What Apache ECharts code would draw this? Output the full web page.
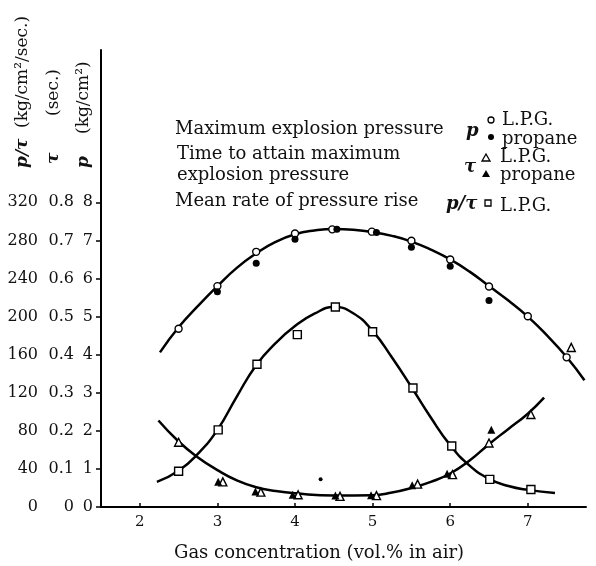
<!DOCTYPE html>
<html>
<head>
<meta charset="utf-8">
<script src="https://cdn.jsdelivr.net/npm/echarts@6/dist/echarts.min.js"></script>
<style>
  html, body { margin: 0; padding: 0; background: #fff; }
  #chart { width: 596px; height: 566px; }
</style>
</head>
<body>
<div id="chart"></div>
<script>
// tick labels for the three stacked scales
const xTicks = [2, 3, 4, 5, 6, 7];
const pTicks = [0, 1, 2, 3, 4, 5, 6, 7, 8];
const tauTicks = [0, 0.1, 0.2, 0.3, 0.4, 0.5, 0.6, 0.7, 0.8];
const rateTicks = [0, 40, 80, 120, 160, 200, 240, 280, 320];

// maximum explosion pressure p (kg/cm2)
const pLpgX = [2.5, 3.0, 3.5, 4.0, 4.48, 4.99, 5.5, 6.0, 6.5, 7.0, 7.5];
const pLpg = [4.68, 5.80, 6.70, 7.18, 7.29, 7.23, 6.99, 6.50, 5.79, 5.01, 3.93];
const pPropaneX = [3.0, 3.5, 4.0, 4.54, 5.05, 5.5, 6.0, 6.5];
const pPropane = [5.65, 6.40, 7.03, 7.29, 7.21, 6.82, 6.32, 5.42];

// time to attain maximum pressure tau (sec.)
const tauLpgX = [2.5, 3.07, 3.56, 4.04, 4.58, 5.05, 5.58, 6.03, 6.5, 7.04, 7.56];
const tauLpg = [0.170, 0.066, 0.039, 0.032, 0.028, 0.030, 0.060, 0.085, 0.168, 0.243, 0.419];
const tauPropaneX = [3.01, 3.49, 3.97, 4.52, 4.98, 5.51, 5.96, 6.53];
const tauPropane = [0.066, 0.041, 0.032, 0.030, 0.031, 0.057, 0.087, 0.203];
const strayX = [4.33];
const stray = [0.073];

// mean rate of pressure rise p/tau (kg/cm2/sec.)
const rateLpgX = [2.5, 3.01, 3.51, 4.03, 4.52, 5.0, 5.52, 6.02, 6.51, 7.04];
const rateLpg = [37.6, 81, 150, 181, 210, 184, 125, 64, 29, 18.4];

// hand-drawn fitted curves
const pCurveX = [2.26, 2.5, 2.75, 3.0, 3.25, 3.5, 3.75, 4.0, 4.25, 4.5, 4.75, 5.0, 5.25, 5.5, 5.75, 6.0, 6.25, 6.5, 6.75, 7.0, 7.25, 7.5, 7.73];
const pCurve = [4.06, 4.72, 5.28, 5.80, 6.28, 6.66, 6.96, 7.16, 7.26, 7.30, 7.28, 7.22, 7.12, 6.97, 6.76, 6.50, 6.18, 5.80, 5.42, 5.00, 4.50, 3.94, 3.33];
const rateCurveX = [2.22, 2.5, 2.75, 3.0, 3.25, 3.5, 3.75, 4.0, 4.25, 4.5, 4.75, 5.0, 5.25, 5.5, 5.75, 6.0, 6.25, 6.5, 6.75, 7.0, 7.35];
const rateCurve = [26.4, 38, 56, 81, 116, 149, 172, 190, 203, 210, 203.5, 185, 157, 126, 94, 65, 43.5, 29.5, 22, 18, 14.8];
const tauCurveX = [2.24, 2.5, 2.75, 3.0, 3.25, 3.5, 3.75, 4.0, 4.5, 5.0, 5.25, 5.5, 5.75, 6.0, 6.25, 6.5, 6.75, 7.0, 7.21];
const tauCurve = [0.227, 0.172, 0.130, 0.097, 0.070, 0.052, 0.042, 0.036, 0.030, 0.031, 0.038, 0.050, 0.066, 0.088, 0.122, 0.165, 0.205, 0.245, 0.287];

const SERIF = '"DejaVu Serif", "Liberation Serif", serif';

function zip(xs, ys) {
  return xs.map((x, i) => [x, ys[i]]);
}

function curve(name, xs, ys, axis) {
  return {
    name, type: 'line', yAxisIndex: axis, data: zip(xs, ys),
    smooth: 0.5, symbol: 'none', silent: true, z: 2,
    lineStyle: { color: '#000', width: 2.5 }
  };
}

function dots(name, xs, ys, axis, symbol, size, filled) {
  return {
    name, type: 'scatter', yAxisIndex: axis, data: zip(xs, ys),
    symbol, symbolSize: size, z: 5,
    itemStyle: filled
      ? { color: '#000', opacity: 1 }
      : { color: '#fff', borderColor: '#000', borderWidth: 1.4, opacity: 1 }
  };
}

function sideAxis(max, ticks, offset, fmt, showLine) {
  return {
    type: 'value', position: 'left', offset, min: 0, max,
    axisLine: { show: showLine, onZero: false, lineStyle: { color: '#000', width: 2 } },
    axisTick: { show: showLine, customValues: ticks, length: 5, lineStyle: { color: '#000', width: 1.5 } },
    axisLabel: {
      customValues: ticks, formatter: fmt, margin: 8,
      color: '#111', fontFamily: SERIF, fontSize: 16
    },
    splitLine: { show: false }
  };
}

// rotated axis captions, read bottom-to-top
function vtext(x, y, text, italic) {
  return {
    type: 'text', x, y, rotation: Math.PI / 2,
    style: {
      text, align: 'left', verticalAlign: 'middle', fill: '#111',
      font: (italic ? 'italic bold 17px ' : '17px ') + SERIF
    }
  };
}

function label(x, y, text, size) {
  return {
    type: 'text', x, y,
    style: {
      text, align: 'left', verticalAlign: 'middle', fill: '#111',
      font: (size || 18) + 'px ' + SERIF,
      rich: { i: { fontStyle: 'italic', fontFamily: SERIF, fontSize: 18, fontWeight: 'bold' } }
    }
  };
}

const openStyle = { fill: '#fff', stroke: '#000', lineWidth: 1.3 };
const fillStyle = { fill: '#000' };

const chart = echarts.init(document.getElementById('chart'), null, { renderer: 'canvas' });

chart.setOption({
  backgroundColor: '#fff',
  animation: false,
  grid: { left: 101, right: 10, top: 50, bottom: 59 },
  xAxis: {
    type: 'value', min: 1.5, max: 7.75,
    axisLine: { onZero: false, lineStyle: { color: '#000', width: 2 } },
    axisTick: { inside: true, customValues: xTicks, length: 4, lineStyle: { color: '#000', width: 1.5 } },
    axisLabel: { customValues: xTicks, margin: 8, color: '#111', fontFamily: SERIF, fontSize: 15 },
    splitLine: { show: false }
  },
  yAxis: [
    sideAxis(12, pTicks, 0, v => String(v), true),
    sideAxis(1.2, tauTicks, 19, v => (v === 0 ? '0' : v.toFixed(1)), false),
    sideAxis(480, rateTicks, 55, v => String(v), false)
  ],
  series: [
    curve('p curve', pCurveX, pCurve, 0),
    curve('p/tau curve', rateCurveX, rateCurve, 2),
    curve('tau curve', tauCurveX, tauCurve, 1),
    dots('p L.P.G.', pLpgX, pLpg, 0, 'circle', 7, false),
    dots('p propane', pPropaneX, pPropane, 0, 'circle', 7, true),
    dots('tau L.P.G.', tauLpgX, tauLpg, 1, 'triangle', 8, false),
    dots('tau propane', tauPropaneX, tauPropane, 1, 'triangle', 8, true),
    dots('stray', strayX, stray, 1, 'circle', 4, true),
    dots('p/tau L.P.G.', rateLpgX, rateLpg, 2, 'rect', 8, false)
  ],
  graphic: [
    vtext(23, 168, 'p/τ', true),
    vtext(23, 128, '(kg/cm²/sec.)'),
    vtext(54, 164, 'τ', true),
    vtext(54, 116, '(sec.)'),
    vtext(84, 168, 'p', true),
    vtext(84, 134, '(kg/cm²)'),

    label(175, 129, 'Maximum explosion pressure'),
    label(466, 131, '{i|p}'),
    { type: 'circle', shape: { cx: 491, cy: 120, r: 3 }, style: openStyle },
    label(502, 120, 'L.P.G.'),
    { type: 'circle', shape: { cx: 491, cy: 137, r: 3 }, style: fillStyle },
    label(502, 139, 'propane'),

    label(177, 154, 'Time to attain maximum'),
    label(177, 175, 'explosion pressure'),
    label(464, 167, '{i|τ}'),
    { type: 'polygon', shape: { points: [[486, 154], [482, 161], [490, 161]] }, style: openStyle },
    label(500, 157, 'L.P.G.'),
    { type: 'polygon', shape: { points: [[486, 170], [482, 177], [490, 177]] }, style: fillStyle },
    label(500, 175, 'propane'),

    label(175, 201, 'Mean rate of pressure rise'),
    label(446, 204, '{i|p/τ}'),
    { type: 'rect', shape: { x: 485, y: 200, width: 6, height: 6 }, style: openStyle },
    label(500, 206, 'L.P.G.'),

    label(174, 553, 'Gas concentration (vol.% in air)')
  ]
});
</script>
</body>
</html>
